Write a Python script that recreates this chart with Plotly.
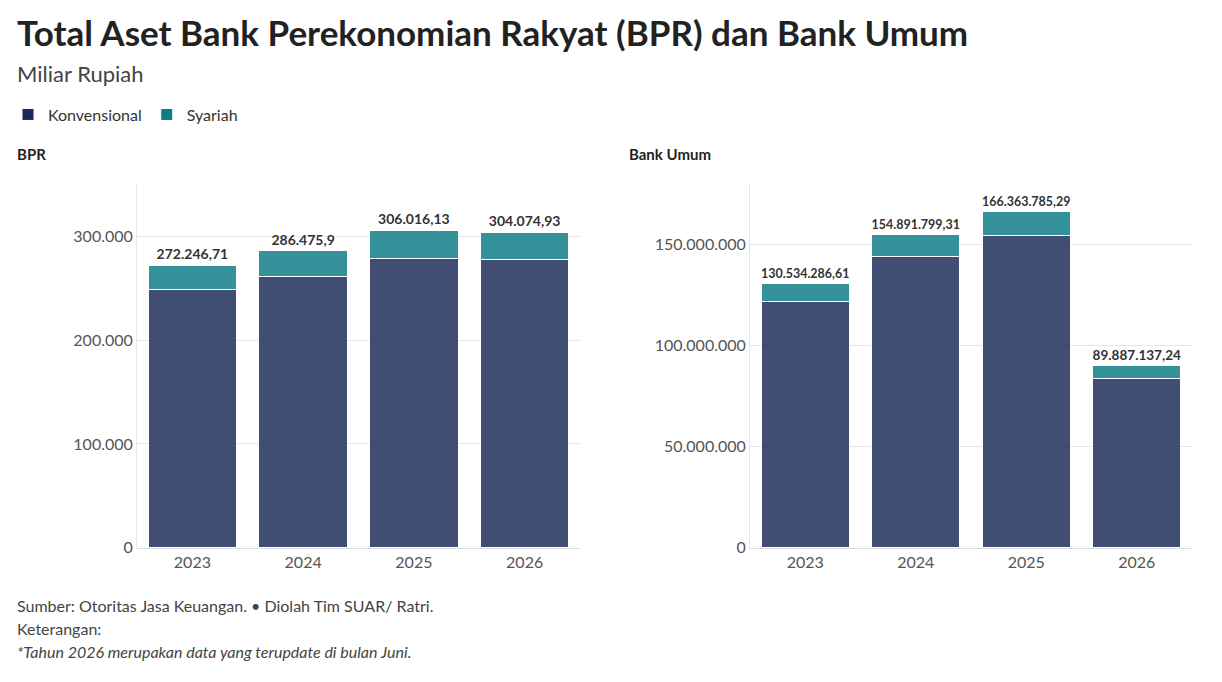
import plotly.graph_objects as go

years = ["2023", "2024", "2025", "2026"]
bpr_konv = [248600, 261900, 279000, 278000]
bpr_total = [272246.71, 286475.9, 306016.13, 304074.93]
bpr_total_lbl = ["272.246,71", "286.475,9", "306.016,13", "304.074,93"]
bu_konv = [121600000, 144100000, 154400000, 83500000]
bu_total = [130534286.61, 154891799.31, 166363785.29, 89887137.24]
bu_total_lbl = ["130.534.286,61", "154.891.799,31", "166.363.785,29", "89.887.137,24"]

NAVY = "#1a2b5a"; TEAL = "#0e7c86"
F = "Lato"
O = 8  # page body margin (left)
fig = go.Figure()
for xa, ya, konv, tot, lbl, show in [("x", "y", bpr_konv, bpr_total, bpr_total_lbl, True),
                                      ("x2", "y2", bu_konv, bu_total, bu_total_lbl, False)]:
    fig.add_bar(x=years, y=konv, name="Konvensional", marker=dict(color=NAVY, opacity=0.83, line=dict(color="white", width=1)),
                xaxis=xa, yaxis=ya, showlegend=show, legendgroup="k", hoverinfo="skip")
    fig.add_bar(x=years, y=[t - k for t, k in zip(tot, konv)], name="Syariah",
                marker=dict(color=TEAL, opacity=0.83, line=dict(color="white", width=1)),
                text=lbl, textposition="outside", cliponaxis=False,
                textfont=dict(family=F, size=14, color="#333333", weight="bold"),
                xaxis=xa, yaxis=ya, showlegend=show, legendgroup="s", hoverinfo="skip")

ax = dict(showgrid=False, tickfont=dict(family=F, size=16, color="#555"), ticks="", linecolor="#ddd", showline=True)
ay = dict(showgrid=True, gridcolor="#e6e6e6", tickfont=dict(family=F, size=16, color="#555"), tickformat=",",
          zeroline=False, showline=True, linecolor="#e6e6e6", ticks="", ticklen=0)
W = 1222 - 2 * O; H = 682 - O
def px(x): return (x - O) / W
def py(y): return 1 - y / H
def pa(y): return 1 - (y - O) / H
fig.update_layout(
    width=W, height=H, margin=dict(l=0, r=0, t=0, b=0), barmode="stack", bargap=0.2,
    plot_bgcolor="white", paper_bgcolor="white", separators=",.",
    xaxis=dict(domain=[px(137), px(580)], anchor="y", **ax),
    yaxis=dict(domain=[py(547), py(178)], range=[0, 351000], anchor="x", tickvals=[0, 100000, 200000, 300000], **ay),
    xaxis2=dict(domain=[px(750), px(1192)], anchor="y2", **ax),
    yaxis2=dict(domain=[py(547), py(178)], range=[0, 180000000], anchor="x2", tickvals=[0, 5e7, 1e8, 1.5e8], **ay),
    legend=dict(orientation="h", x=px(8), y=pa(116), yanchor="middle", xanchor="left",
                font=dict(family=F, size=16, color="#333"), itemwidth=30, traceorder="normal"),
    font=dict(family=F),
)
def ann(text, x, y, size, color="#333", bold=False, italic=False, f=pa):
    if bold: text = "<b>" + text + "</b>"
    if italic: text = "<i>" + text + "</i>"
    fig.add_annotation(text=text, x=px(x), y=f(y), xref="paper", yref="paper", xanchor="left", yanchor="middle",
                       showarrow=False, font=dict(family=F, size=size, color=color))
ann("Total Aset Bank Perekonomian Rakyat (BPR) dan Bank Umum", 15, 32, 35, "#222", bold=True)
ann("Miliar Rupiah", 15, 74, 22, "#444")
ann("BPR", 15, 156, 15, "#222", bold=True)
ann("Bank Umum", 627, 156, 15, "#222", bold=True)
ann("Sumber: Otoritas Jasa Keuangan. • Diolah Tim SUAR/ Ratri.", 15, 606, 16, "#444", f=py)
ann("Keterangan:", 15, 629, 16, "#444", f=py)
ann("*Tahun 2026 merupakan data yang terupdate di bulan Juni.", 15, 652, 16, "#444", italic=True, f=py)
fig.write_html("out.html")
